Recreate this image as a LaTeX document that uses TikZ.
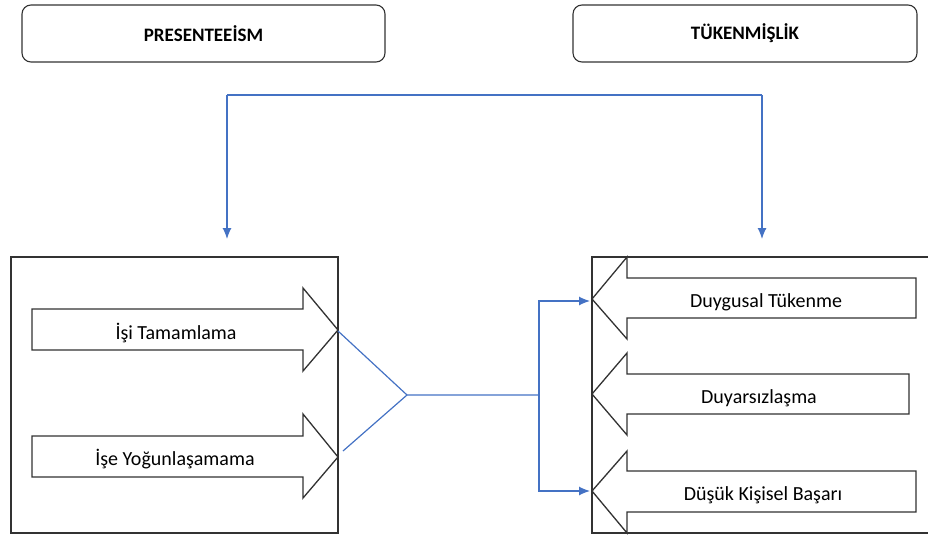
\documentclass[tikz,border=0pt]{standalone}
\usepackage{fontspec}
\setmainfont{Carlito}
\usetikzlibrary{arrows.meta}
\definecolor{linkblue}{RGB}{68,114,196}
\definecolor{edgegray}{RGB}{50,50,50}

\begin{document}
\begin{tikzpicture}[x=1pt,y=-1pt,
  head/.style={draw=edgegray, line width=1.1pt, rounded corners=9pt, minimum height=57pt,
    font=\fontsize{19}{23}\selectfont\bfseries},
  block/.style={draw=edgegray, line width=1.3pt, fill=white},
  link/.style={draw=linkblue, line width=1.2pt},
  tip/.style={-{Latex[length=11pt,width=9pt]}},
  label/.style={font=\fontsize{20}{24}\selectfont, inner sep=0pt, anchor=base}]
  \useasboundingbox (0,0) rectangle (928,538);
  % Headings
  \node[head, minimum width=363pt] (pres) at (203.5,33.5) {PRESENTEEİSM};
  \node[head, minimum width=344pt] (tuk) at (745,33.5) {TÜKENMİŞLİK};
  % Bracket from the top
  \coordinate (bracket) at (0,95);
  \coordinate (presIn) at (227,239);
  \coordinate (tukIn) at (762,239);
  \draw[link, tip] (presIn |- bracket) -- (presIn);
  \draw[link] (presIn |- bracket) -- (tukIn |- bracket);
  \draw[link, tip] (tukIn |- bracket) -- (tukIn);
  % Boxes
  \node[draw=edgegray, line width=1.3pt, minimum width=327pt, minimum height=276pt] (presBox) at (174.5,395) {};
  \draw[block, fill=none] (928,257) -- (592,257) -- (592,533) -- (928,533);
  % Presenteeism arrows
  \draw[block] (32,309) -- (303,309) -- (303,288) -- (338,330) -- (303,371) -- (303,350) -- (32,350) -- cycle;
  \node[label] (isi) at (176,339) {İşi Tamamlama};
  \draw[block] (32,436) -- (303,436) -- (303,414) -- (338,457) -- (303,498) -- (303,477) -- (32,477) -- cycle;
  \node[label] (ise) at (175,465) {İşe Yoğunlaşamama};
  % Burnout arrows
  \draw[block] (916,278) -- (627,278) -- (627,257) -- (592,299) -- (627,339) -- (627,318) -- (916,318) -- cycle;
  \node[label] (duygu) at (766,307) {Duygusal Tükenme};
  \draw[block] (909,374) -- (627,374) -- (627,353) -- (592,394) -- (627,435) -- (627,414) -- (909,414) -- cycle;
  \node[label] (duyar) at (759,403) {Duyarsızlaşma};
  \draw[block] (916,471) -- (627,471) -- (627,451) -- (592,491) -- (627,533) -- (627,512) -- (916,512) -- cycle;
  \node[label] (basari) at (763,500) {Düşük Kişisel Başarı};
  % Links between the two sides
  \coordinate (isiTip) at (338,331);
  \coordinate (iseTip) at (343,451);
  \coordinate (join) at (407,395);
  \coordinate (fork) at (539,395);
  \coordinate (duyguIn) at (590,301);
  \coordinate (basariIn) at (590,491);
  \draw[link] (isiTip) -- (join) -- (fork);
  \draw[link] (iseTip) -- (join);
  \draw[link, tip] (fork) |- (duyguIn);
  \draw[link, tip] (fork) |- (basariIn);
\end{tikzpicture}
\end{document}
